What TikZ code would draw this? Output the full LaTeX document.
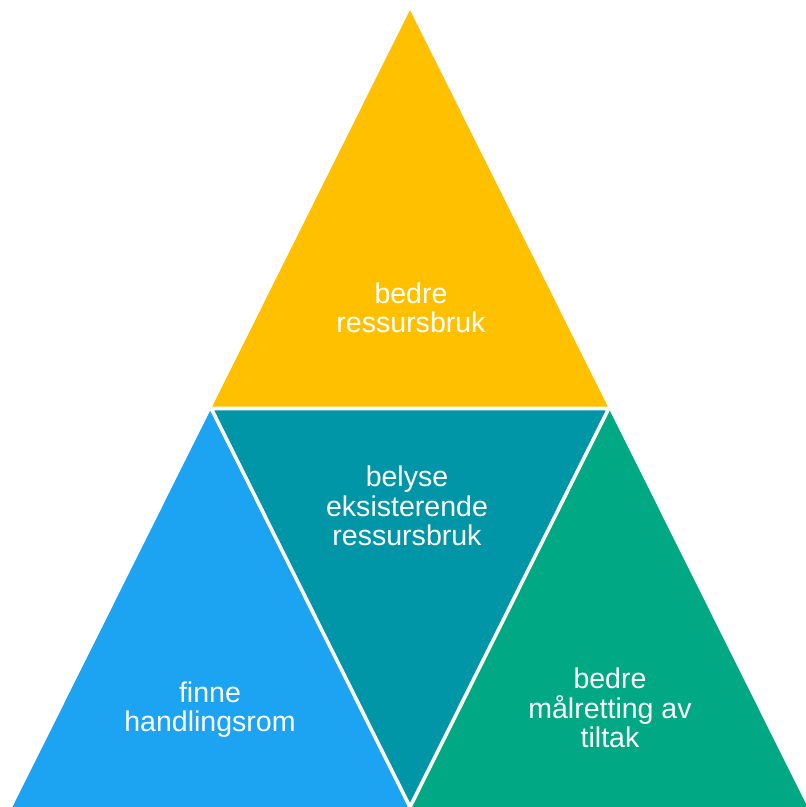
\documentclass[tikz,border=0pt]{standalone}
\usepackage{fontspec}
\setmainfont{Liberation Sans}
\definecolor{cgold}{RGB}{255,192,0}
\definecolor{cteal}{RGB}{0,150,168}
\definecolor{cblue}{RGB}{28,163,242}
\definecolor{cgreen}{RGB}{0,169,131}
\begin{document}
\begin{tikzpicture}[x=0.75pt,y=-0.75pt,
  lbl/.style={text=white,align=center,inner sep=0pt,font=\fontsize{21.4pt}{22pt}\selectfont},
  gap/.style={draw=white,line width=2.7pt}]
\useasboundingbox (0,0) rectangle (806,807);
\clip (0,0) rectangle (806,807);
\coordinate (A) at (410,10);
\coordinate (B) at (12.5,807);
\coordinate (C) at (807.5,807);
\coordinate (AB) at (211.25,408.5);
\coordinate (AC) at (608.75,408.5);
\coordinate (BC) at (410,807);
\fill[cgold] (A) -- (AB) -- (AC) -- cycle;
\fill[cteal] (AB) -- (AC) -- (BC) -- cycle;
\fill[cblue] (AB) -- (B) -- (BC) -- cycle;
\fill[cgreen] (AC) -- (BC) -- (C) -- cycle;
\draw[gap] (AB) -- (AC) -- (BC) -- cycle;
\draw[gap] (BC) -- ++(0,20);
\node[lbl] (top) at (411,307.5) {bedre\\ressursbruk};
\node[lbl] (mid) at (407,506) {belyse\\eksisterende\\ressursbruk};
\node[lbl] (left) at (210,709.5) {finne\\handlingsrom};
\node[lbl] (right) at (610,708) {bedre\\målretting av\\tiltak};
\end{tikzpicture}
\end{document}
